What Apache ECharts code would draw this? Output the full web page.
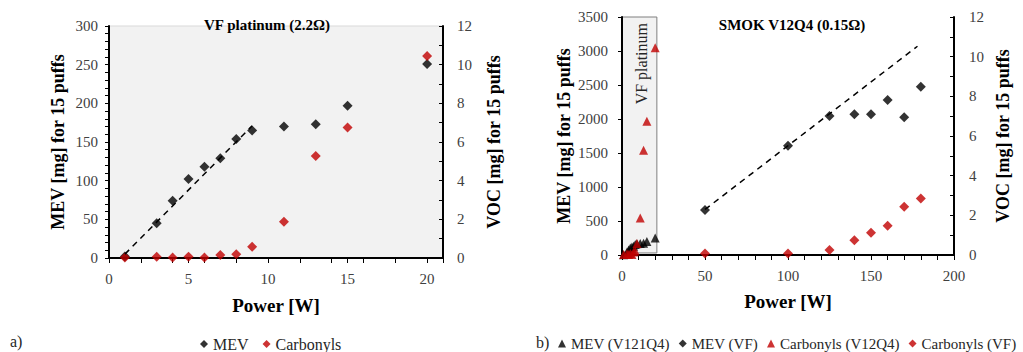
<!DOCTYPE html>
<html>
<head>
<meta charset="utf-8">
<script src="https://cdn.jsdelivr.net/npm/echarts@6/dist/echarts.min.js"></script>
<style>
  html, body { margin: 0; padding: 0; background: #fff; }
  #chart { width: 1023px; height: 352px; }
</style>
</head>
<body>
<div id="chart"></div>
<script>
// panel a) VF platinum (2.2 ohm)
var powerA = [1, 3, 4, 5, 6, 7, 8, 9, 11, 13, 15, 20];
var mevA = [2, 45, 74, 102, 118, 129, 154, 165, 170, 173, 197, 251];
var carbA = [0.03, 0.06, 0.02, 0.07, 0.02, 0.15, 0.2, 0.58, 1.87, 5.28, 6.75, 10.45];
var trendAx = [1, 9];
var trendAy = [5, 171];

// panel b) SMOK V12Q4 (0.15 ohm)
var powerB = [50, 100, 125, 140, 150, 160, 170, 180];
var mevB = [660, 1605, 2045, 2070, 2070, 2280, 2025, 2475];
var carbB = [0.08, 0.08, 0.25, 0.74, 1.12, 1.48, 2.43, 2.85];
var trendBx = [50, 178];
var trendBy = [670, 3070];
var vfRange = [0, 21];

var FONT = 'Liberation Serif';
var red = '#c00000';
var tickColor = '#404040';

function zip(xs, ys) {
  return xs.map(function(x, i) { return [x, ys[i]]; });
}

function plain(v) { return String(v); }

function valueAxis(o) {
  return Object.assign({
    type: 'value',
    z: 1,
    splitLine: { show: false },
    axisLine: { show: true, onZero: false, lineStyle: { color: '#000', width: 2 } },
    axisTick: { show: true, length: 4, lineStyle: { color: '#000', width: 1 } },
    axisLabel: { color: tickColor, fontFamily: FONT, fontSize: 15, margin: 11, formatter: plain },
    nameLocation: 'middle',
    nameTextStyle: { color: '#000', fontFamily: FONT, fontWeight: 'bold', fontSize: 18 }
  }, o);
}

var chart = echarts.init(document.getElementById('chart'), null, { renderer: 'svg' });
chart.setOption({
  animation: false,
  textStyle: { fontFamily: FONT },
  title: [
    { text: 'VF platinum (2.2Ω)', left: 262, top: 12, textAlign: 'center',
      textStyle: { fontFamily: FONT, fontWeight: 'bold', fontSize: 15, color: '#000' } },
    { text: 'SMOK V12Q4 (0.15Ω)', left: 787, top: 12, textAlign: 'center',
      textStyle: { fontFamily: FONT, fontWeight: 'bold', fontSize: 15, color: '#000' } }
  ],
  legend: [
    { data: ['MEV', 'Carbonyls'], left: 195, top: 331, itemWidth: 8, itemHeight: 8, itemGap: 14,
      textStyle: { fontFamily: FONT, fontSize: 16, color: '#262626' } },
    { data: ['MEV (V121Q4)', 'MEV (VF)', 'Carbonyls (V12Q4)', 'Carbonyls (VF)'], left: 553, top: 331,
      width: 470, itemWidth: 8, itemHeight: 8, itemGap: 9,
      textStyle: { fontFamily: FONT, fontSize: 15, color: '#262626' } }
  ],
  grid: [
    { left: 109, top: 26, width: 334, height: 232, show: true, backgroundColor: '#f2f2f2',
      borderColor: '#d9d9d9', borderWidth: 1 },
    { left: 622, top: 17, width: 332, height: 238 }
  ],
  xAxis: [
    valueAxis({ gridIndex: 0, min: 0, max: 21, interval: 5, name: 'Power [W]', nameGap: 38,
      axisTick: { show: true, length: 5, lineStyle: { color: '#000' } },
      axisLabel: { color: tickColor, fontFamily: FONT, fontSize: 15, margin: 13,
        formatter: function(v) { return v % 5 === 0 ? String(v) : ''; } },
      nameTextStyle: { color: '#000', fontFamily: FONT, fontWeight: 'bold', fontSize: 19 } }),
    valueAxis({ gridIndex: 1, min: 0, max: 200, interval: 50, name: 'Power [W]', nameGap: 37,
      axisTick: { show: true, length: 5, lineStyle: { color: '#000' } },
      minorTick: { show: true, splitNumber: 5, length: 5, lineStyle: { color: '#000' } },
      axisLabel: { color: tickColor, fontFamily: FONT, fontSize: 15, margin: 13, formatter: plain },
      nameTextStyle: { color: '#000', fontFamily: FONT, fontWeight: 'bold', fontSize: 19 } }),
    // minor ticks every 2 W on panel a
    { type: 'value', gridIndex: 0, position: 'bottom', min: 0, max: 21, interval: 2, z: 1,
      axisLine: { show: false, onZero: false }, axisLabel: { show: false }, splitLine: { show: false },
      axisTick: { show: true, length: 5, lineStyle: { color: '#000' } } }
  ],
  yAxis: [
    valueAxis({ gridIndex: 0, position: 'left', min: 0, max: 300, interval: 50,
      name: 'MEV [mg] for 15 puffs', nameGap: 42,
      minorTick: { show: true, splitNumber: 5, length: 4, lineStyle: { color: '#000' } } }),
    valueAxis({ gridIndex: 0, position: 'right', min: 0, max: 12, interval: 2,
      name: 'VOC [mg] for 15 puffs', nameGap: 42, nameRotate: 90,
      axisTick: { show: true, inside: true, length: 4, lineStyle: { color: '#000' } },
      axisLabel: { color: tickColor, fontFamily: FONT, fontSize: 15, margin: 14, formatter: plain },
      minorTick: { show: true, splitNumber: 2, length: 4, lineStyle: { color: '#000' } } }),
    valueAxis({ gridIndex: 1, position: 'left', min: 0, max: 3500, interval: 500,
      name: 'MEV [mg] for 15 puffs', nameGap: 49,
      axisLabel: { color: tickColor, fontFamily: FONT, fontSize: 15, margin: 14, formatter: plain } }),
    valueAxis({ gridIndex: 1, position: 'right', min: 0, max: 12, interval: 2,
      name: 'VOC [mg] for 15 puffs', nameGap: 40, nameRotate: 90,
      axisTick: { show: true, inside: true, length: 4, lineStyle: { color: '#000' } },
      axisLabel: { color: tickColor, fontFamily: FONT, fontSize: 15, margin: 15, formatter: plain },
      minorTick: { show: true, splitNumber: 2, length: 4, lineStyle: { color: '#000' } } })
  ],
  series: [
    // panel a
    { name: 'trendA', type: 'line', xAxisIndex: 0, yAxisIndex: 0, data: zip(trendAx, trendAy),
      symbol: 'none', silent: true, lineStyle: { color: '#000', width: 1.5, type: [6, 5] } },
    { name: 'MEV', type: 'scatter', xAxisIndex: 0, yAxisIndex: 0, data: zip(powerA, mevA),
      symbol: 'diamond', symbolSize: 10, itemStyle: { color: '#000' } },
    { name: 'Carbonyls', type: 'scatter', xAxisIndex: 0, yAxisIndex: 1, data: zip(powerA, carbA),
      symbol: 'diamond', symbolSize: 10, itemStyle: { color: red } },
    // panel b
    { name: 'vfRegion', type: 'line', xAxisIndex: 1, yAxisIndex: 2, data: [], z: 0, silent: true,
      markArea: {
        silent: true,
        itemStyle: { color: '#f2f2f2', borderColor: '#7f7f7f', borderWidth: 1 },
        data: [[{ xAxis: vfRange[0], yAxis: 30 }, { xAxis: vfRange[1], yAxis: 3500 }]]
      } },
    { name: 'trendB', type: 'line', xAxisIndex: 1, yAxisIndex: 2, data: zip(trendBx, trendBy),
      symbol: 'none', silent: true, lineStyle: { color: '#000', width: 1.5, type: [6, 5] } },
    { name: 'MEV (V121Q4)', type: 'scatter', xAxisIndex: 1, yAxisIndex: 2, data: zip(powerA, mevA),
      symbol: 'triangle', symbolSize: 9, itemStyle: { color: '#000' } },
    { name: 'MEV (VF)', type: 'scatter', xAxisIndex: 1, yAxisIndex: 2, data: zip(powerB, mevB),
      symbol: 'diamond', symbolSize: 10, itemStyle: { color: '#000' } },
    { name: 'Carbonyls (V12Q4)', type: 'scatter', xAxisIndex: 1, yAxisIndex: 3, data: zip(powerA, carbA),
      symbol: 'triangle', symbolSize: 9, itemStyle: { color: red } },
    { name: 'Carbonyls (VF)', type: 'scatter', xAxisIndex: 1, yAxisIndex: 3, data: zip(powerB, carbB),
      symbol: 'diamond', symbolSize: 10, itemStyle: { color: red } }
  ]
});

// rotated label inside the VF platinum band, anchored at the band's top
var anchor = chart.convertToPixel({ xAxisIndex: 1, yAxisIndex: 2 }, [(vfRange[0] + vfRange[1]) / 2, 3500]);
chart.setOption({
  graphic: [
    { type: 'text', left: 10, top: 333, style: { text: 'a)', font: '16px "Liberation Serif"', fill: '#262626' } },
    { type: 'text', left: 536, top: 334, style: { text: 'b)', font: '16px "Liberation Serif"', fill: '#262626' } },
    { type: 'text', x: anchor[0] + 2, y: anchor[1] + 6, rotation: Math.PI / 2, z: 3,
      style: { text: 'VF platinum', font: '16px "Liberation Serif"', fill: '#262626',
        align: 'right', verticalAlign: 'middle' } }
  ]
});
window.addEventListener('resize', function() { chart.resize(); });
</script>
</body>
</html>
